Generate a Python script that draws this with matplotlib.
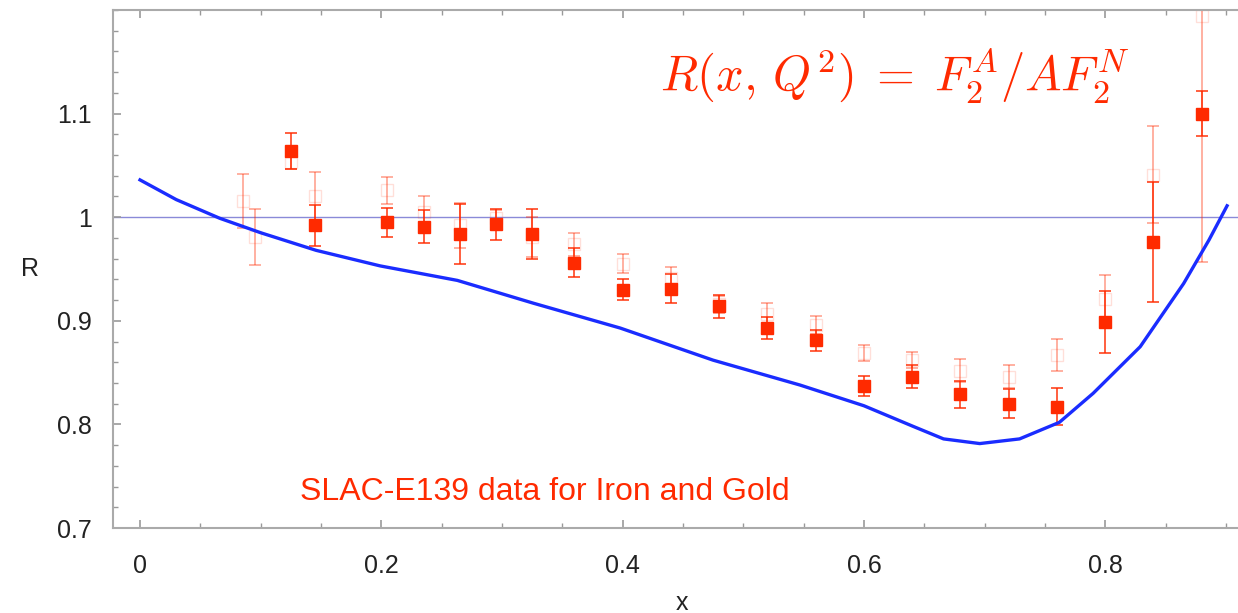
import matplotlib
matplotlib.use('Agg')
import matplotlib.pyplot as plt
from matplotlib.ticker import MultipleLocator

plt.rcParams['font.family'] = ['Liberation Sans', 'DejaVu Sans']
plt.rcParams['mathtext.fontset'] = 'cm'

red = '#ff2a00'

# SLAC-E139 filled squares
fe_x = [0.125, 0.145, 0.205, 0.235, 0.265, 0.295, 0.325, 0.36, 0.40, 0.44, 0.48,
        0.52, 0.56, 0.60, 0.64, 0.68, 0.72, 0.76, 0.80, 0.84, 0.88]
fe_y = [1.064, 0.992, 0.995, 0.991, 0.984, 0.993, 0.984, 0.956, 0.930, 0.931, 0.914,
        0.893, 0.881, 0.837, 0.846, 0.829, 0.820, 0.817, 0.899, 0.976, 1.100]
fe_err = [0.017, 0.020, 0.014, 0.016, 0.029, 0.015, 0.024, 0.014, 0.010, 0.014, 0.011,
          0.011, 0.010, 0.010, 0.011, 0.013, 0.014, 0.018, 0.030, 0.058, 0.022]

# faint open squares
au_x = [0.085, 0.095, 0.125, 0.145, 0.205, 0.235, 0.265, 0.295, 0.325, 0.36, 0.40, 0.44,
        0.48, 0.52, 0.56, 0.60, 0.64, 0.68, 0.72, 0.76, 0.80, 0.84, 0.88]
au_y = [1.016, 0.981, 1.053, 1.020, 1.026, 1.005, 0.992, 0.999, 0.981, 0.974, 0.955, 0.941,
        0.916, 0.907, 0.896, 0.869, 0.862, 0.852, 0.846, 0.867, 0.921, 1.041, 1.194]
au_err = [0.026, 0.027, 0.006, 0.024, 0.013, 0.015, 0.022, 0.008, 0.019, 0.011, 0.009, 0.011,
          0.008, 0.010, 0.009, 0.008, 0.008, 0.011, 0.011, 0.015, 0.023, 0.047, 0.237]

# model curve
curve_x = [0.0, 0.03, 0.066, 0.10, 0.146, 0.199, 0.263, 0.326, 0.398, 0.475, 0.547, 0.600,
           0.641, 0.666, 0.696, 0.729, 0.762, 0.790, 0.829, 0.865, 0.886, 0.901]
curve_y = [1.036, 1.017, 0.999, 0.985, 0.968, 0.953, 0.939, 0.917, 0.893, 0.862, 0.838, 0.818,
           0.798, 0.786, 0.7815, 0.786, 0.802, 0.830, 0.875, 0.936, 0.978, 1.011]

fig = plt.figure(figsize=(12.38, 6.13), dpi=100)
ax = fig.add_axes([113 / 1238, 85 / 613, 1137 / 1238, 518 / 613])

ax.axhline(1.0, color='#8a8ad8', lw=1.0, zorder=1)

# faint series: bars a bit stronger than the open markers
ax.errorbar(au_x, au_y, yerr=au_err, fmt='none', ecolor=red, elinewidth=1.3,
            capsize=4, capthick=1.3, alpha=0.4, zorder=2)
ax.plot(au_x, au_y, 's', ms=8.5, mfc='none', mec=red, mew=1.0, alpha=0.15, zorder=2)

ax.errorbar(fe_x, fe_y, yerr=fe_err, fmt='none', ecolor=red, elinewidth=1.4,
            capsize=4, capthick=1.4, alpha=0.75, zorder=3)
ax.plot(fe_x, fe_y, 's', ms=8.5, color=red, zorder=4)

ax.plot(curve_x, curve_y, color='#1a2cff', lw=2.4, zorder=5)

ax.set_xlim(-0.0224, 0.92)
ax.set_ylim(0.7, 1.2)
ax.xaxis.set_minor_locator(MultipleLocator(0.05))
ax.yaxis.set_minor_locator(MultipleLocator(0.02))
ax.set_xticks([0, 0.2, 0.4, 0.6, 0.8])
ax.set_xticklabels(['0', '0.2', '0.4', '0.6', '0.8'])
ax.set_yticks([0.7, 0.8, 0.9, 1.0, 1.1])
ax.set_yticklabels(['0.7', '0.8', '0.9', '1', '1.1'])

ax.tick_params(which='both', direction='in', top=True, right=True, color='#999999',
               labelsize=18, labelcolor='#222222')
ax.tick_params(which='major', length=6, width=1.2)
ax.tick_params(which='minor', length=3.5, width=1.0)
ax.tick_params(axis='x', pad=19)
ax.tick_params(axis='y', pad=15)
for s in ax.spines.values():
    s.set_color('#aaaaaa')
    s.set_linewidth(1.5)

ax.set_xlabel('x', fontsize=18, color='#222222', labelpad=9)
ax.set_ylabel('R', fontsize=18, color='#222222', rotation=0, labelpad=20, va='center')

ax.text(0.431, 1.137, r'$R(x,\,Q^2)\;=\;F_2^A/AF_2^N$', color=red, fontsize=35,
        ha='left', va='center')
ax.text(0.1326, 0.7345, 'SLAC-E139 data for Iron and Gold', color=red, fontsize=23,
        ha='left', va='center')

fig.savefig('out.png', dpi=100)
